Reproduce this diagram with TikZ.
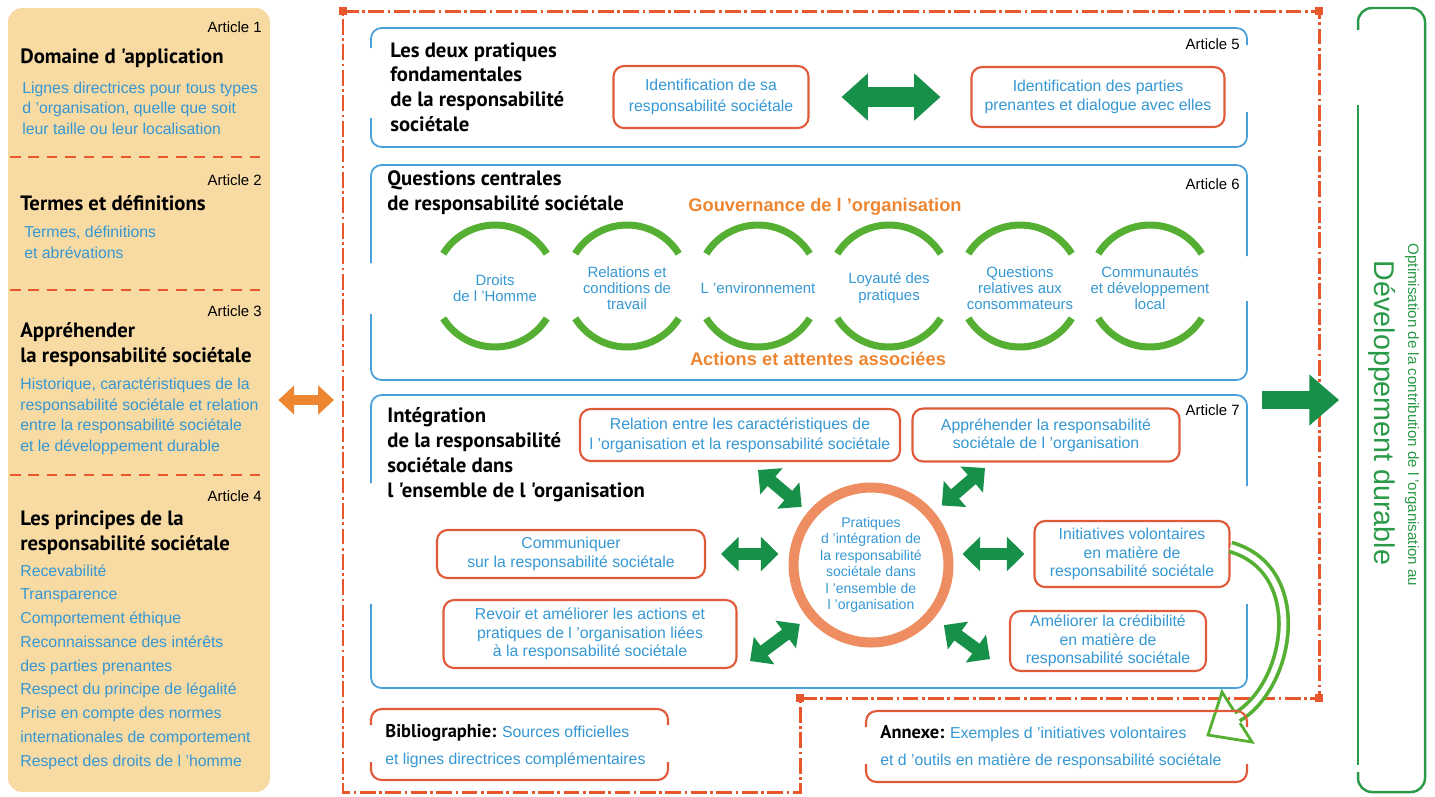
\documentclass[tikz,border=0pt]{standalone}
\usepackage{fontspec}
\setmainfont{Liberation Sans}
\newfontfamily\headfont{PT Sans}
\usetikzlibrary{arrows.meta,calc}

\definecolor{panelfill}{HTML}{F8DAA3}
\definecolor{dashred}{HTML}{E8582C}
\definecolor{txtblue}{HTML}{3597D3}
\definecolor{boxblue}{HTML}{4AA0DA}
\definecolor{boxred}{HTML}{E05A3A}
\definecolor{darkgreen}{HTML}{17904A}
\definecolor{arcgreen}{HTML}{55AF33}
\definecolor{txtorange}{HTML}{EE8631}
\definecolor{ringorange}{HTML}{EF8D62}
\definecolor{ddgreen}{HTML}{2A9A48}

\tikzset{
  article/.style={anchor=base east, inner sep=0, font=\fontsize{8.5}{10}\selectfont},
  heading/.style={anchor=base west, inner sep=0, align=left, font=\headfont\bfseries\fontsize{11.8}{13.7}\selectfont},
  bluetext/.style={anchor=base west, inner sep=0, align=left, text=txtblue, font=\fontsize{9}{11.6}\selectfont},
  sepline/.style={dashred, line width=1.2pt, dash pattern=on 6pt off 4.5pt},
  bluebox/.style={boxblue, line width=1pt, rounded corners=6pt},
  redline/.style={boxred, line width=1.2pt, rounded corners=6pt},
  redbox/.style={draw=boxred, line width=1.2pt, rounded corners=6pt, text=txtblue, align=center, inner sep=0, font=\fontsize{9}{10.4}\selectfont},
  cadre/.style={dashred, line width=1.7pt, dash pattern=on 9pt off 2pt on 1.5pt off 2pt},
  arcline/.style={arcgreen, line width=4pt},
  circtext/.style={text=txtblue, align=center, inner sep=0, font=\fontsize{8.5}{9.2}\selectfont},
  orangetitle/.style={text=txtorange, inner sep=0, font=\bfseries\fontsize{10.4}{12}\selectfont},
  fatarrow/.style={darkgreen, line width=7pt, {Triangle[width=19pt,length=10pt]}-{Triangle[width=19pt,length=10pt]}},
  bigarrow/.style={darkgreen, line width=11pt, {Triangle[width=26pt,length=15pt]}-{Triangle[width=26pt,length=15pt]}},
  exitarrow/.style={darkgreen, line width=10pt, -{Triangle[width=28pt,length=17pt]}},
  orangearrow/.style={txtorange, line width=5.5pt, {Triangle[width=16pt,length=9pt]}-{Triangle[width=16pt,length=9pt]}},
  ddline/.style={ddgreen, line width=1.4pt, rounded corners=8pt}
}

\begin{document}
\begin{tikzpicture}[x=0.02cm, y=-0.02cm]
\useasboundingbox (0,0) rectangle (1435,796);

% sommaire, articles 1 a 4 (base = ligne du bas)
\node [fill=panelfill, rounded corners=8pt, minimum width=5.24cm, minimum height=15.68cm, inner sep=0] (sommaire) at (139,400) {};
\foreach \y in {157,290,475}
  \draw [sepline] (10,\y) -- (264,\y);

\node [article] (art1) at (262,32) {Article 1};
\node [heading] (domaine) at (20,63) {Domaine d 'application};
\node [bluetext] (domainetxt) at (22,134) {Lignes directrices pour tous types\\d 'organisation, quelle que soit\\leur taille ou leur localisation};

\node [article] (art2) at (262,185) {Article 2};
\node [heading] (termes) at (20,210) {Termes et définitions};
\node [bluetext] (termestxt) at (24,258) {Termes, définitions\\et abrévations};

\node [article] (art3) at (262,316) {Article 3};
\node [heading] (apprehender) at (20,362) {Appréhender\\la responsabilité sociétale};
\node [bluetext] (apprehendertxt) at (20,451) {Historique, caractéristiques de la\\responsabilité sociétale et relation\\entre la responsabilité sociétale\\et le développement durable};

\node [article] (art4) at (262,501) {Article 4};
\node [heading, font=\headfont\bfseries\fontsize{11.8}{14.2}\selectfont] (principes) at (20,550) {Les principes de la\\responsabilité sociétale};
\node [bluetext, font=\fontsize{9}{13.5}\selectfont] (principestxt) at (20,766) {Recevabilité\\Transparence\\Comportement éthique\\Reconnaissance des intérêts\\des parties prenantes\\Respect du principe de légalité\\Prise en compte des normes\\internationales de comportement\\Respect des droits de l 'homme};

\coordinate (cadreg) at (334,400);
\draw [orangearrow, shorten <=0.16cm] (sommaire.east) -- (cadreg);

% cadre rouge
\draw [cadre] (343,11) -- (1319,11) -- (1319,698) -- (800,698) -- (800,792) -- (343,792) -- cycle;
\foreach \x/\y in {343/11, 1319/11, 1319/698, 800/698}
  \fill [dashred] (\x-4,\y-4) rectangle (\x+4,\y+4);

% article 5
\draw [bluebox] (371,48) |- (1247,28) -- (1247,45);
\draw [bluebox] (371,118) |- (1247,147) -- (1247,112);
\node [article] (art5) at (1240,49) {Article 5};
\node [heading, font=\headfont\bfseries\fontsize{11.8}{14}\selectfont] (pratiquesfond) at (390,131) {Les deux pratiques\\fondamentales\\de la responsabilité\\sociétale};
\node [redbox, minimum width=3.9cm, minimum height=1.24cm, font=\fontsize{9}{11.9}\selectfont] (ident1) at (711,97) {Identification de sa\\responsabilité sociétale};
\node [redbox, minimum width=5.06cm, minimum height=1.2cm] (ident2) at (1098,97) {Identification des parties\\prenantes et dialogue avec elles};
\draw [bigarrow, shorten <=0.64cm, shorten >=0.6cm] (ident1.east) -- (ident2.west);

% article 6
\draw [bluebox] (371,263) |- (1247,165) -- (1247,256);
\draw [bluebox] (371,314) |- (1247,380) -- (1247,301);
\node [article] (art6) at (1240,189) {Article 6};
\node [heading] (questions) at (387,210) {Questions centrales\\de responsabilité sociétale};
\node [orangetitle] (gouvernance) at (825,207) {Gouvernance de l 'organisation};
\node [orangetitle] (actions) at (818,359) {Actions et attentes associées};
\foreach \cx/\txt [count=\i] in {495/{Droits\\de l 'Homme}, 627/{Relations et\\conditions de\\travail}, 758/{L 'environnement}, 889/{Loyauté des\\pratiques}, 1020/{Questions\\relatives aux\\consommateurs}, 1150/{Communautés\\et développement\\local}} {
  \draw [arcline] (\cx,286) ++(212:61) arc [start angle=212, end angle=328, radius=61];
  \draw [arcline] (\cx,286) ++(32:61) arc [start angle=32, end angle=148, radius=61];
  \node [circtext] (q\i) at (\cx,288) {\txt};
}

% article 7
\draw [bluebox] (371,483) |- (1247,395) -- (1247,486);
\draw [bluebox] (371,604) |- (1247,688) -- (1247,604);
\node [article] (art7) at (1240,415) {Article 7};
\node [heading, font=\headfont\bfseries\fontsize{11.8}{14.2}\selectfont] (integration) at (387,497) {Intégration\\de la responsabilité\\sociétale dans\\l 'ensemble de l 'organisation};

\node [redbox, minimum width=6.4cm, minimum height=1.04cm, font=\fontsize{9}{11.3}\selectfont] (relation) at (740,435) {Relation entre les caractéristiques de\\l 'organisation et la responsabilité sociétale};
\node [redbox, minimum width=5.34cm, minimum height=1.06cm] (approrg) at (1046,435) {Appréhender la responsabilité\\sociétale de l 'organisation};
\node [redbox, minimum width=5.36cm, minimum height=0.96cm] (communiquer) at (571,554) {Communiquer\\sur la responsabilité sociétale};
\node [redbox, minimum width=5.86cm, minimum height=1.36cm] (revoir) at (590,634) {Revoir et améliorer les actions et\\pratiques de l 'organisation liées\\à la responsabilité sociétale};
\node [redbox, minimum width=3.9cm, minimum height=1.32cm] (initiatives) at (1132,554) {Initiatives volontaires\\en matière de\\responsabilité sociétale};
\node [redbox, minimum width=3.92cm, minimum height=1.2cm] (credibilite) at (1108,641) {Améliorer la crédibilité\\en matière de\\responsabilité sociétale};

\node [circle, draw=ringorange, line width=5.7pt, minimum size=3.1cm, inner sep=0, text=txtblue, align=center, font=\fontsize{8}{9.4}\selectfont] (pratiques) at (871,565) {Pratiques\\d 'intégration de\\la responsabilité\\sociétale dans\\l 'ensemble de\\l 'organisation};

\coordinate (fl1) at (758,470);
\coordinate (fl2) at (985,468);
\coordinate (fl3) at (750,661);
\coordinate (fl4) at (990,659);
\draw [fatarrow, shorten <=0.16cm] (pratiques.140) -- (fl1);
\draw [fatarrow, shorten <=0.2cm] (pratiques.40) -- (fl2);
\draw [fatarrow, shorten <=0.2cm] (pratiques.220) -- (fl3);
\draw [fatarrow, shorten <=0.24cm] (pratiques.320) -- (fl4);
\draw [fatarrow, shorten <=0.3cm, shorten >=0.2cm] (communiquer.east) -- (communiquer.east -| pratiques.west);
\draw [fatarrow, shorten <=0.18cm, shorten >=0.18cm] (initiatives.west -| pratiques.east) -- (initiatives.west);

% fleche creuse vers l'annexe
\coordinate (creux) at (1237,717);
\draw [arcgreen, line width=7.4pt] ([yshift=4pt]initiatives.east) .. controls (1310,570) and (1290,686) .. (creux);
\fill [white] (1222,692) -- (1208,735) -- (1252,742) -- cycle;
\draw [white, line width=3.2pt] ([yshift=4pt]initiatives.east) .. controls (1310,570) and (1290,686) .. (creux);
\draw [arcgreen, line width=1.6pt, line join=miter] (1234,711) -- (1222,692) -- (1208,735) -- (1252,742) -- (1240,723);

% bibliographie et annexe
\draw [redline] (371,725) |- (668,709) -- (668,725);
\draw [redline] (371,762) |- (668,780) -- (668,762);
\node [anchor=base west, inner sep=0, align=left, text=txtblue, font=\fontsize{9}{15.3}\selectfont] (biblio) at (385,764) {{\color{black}\headfont\bfseries\fontsize{10.5}{11}\selectfont Bibliographie:} Sources officielles\\ et lignes directrices complémentaires};
\draw [redline] (866,727) |- (1247,711) -- (1247,727);
\draw [redline] (866,764) |- (1247,782) -- (1247,764);
\node [anchor=base west, inner sep=0, align=left, text=txtblue, font=\fontsize{9}{15.3}\selectfont] (annexe) at (880,765) {{\color{black}\headfont\bfseries\fontsize{10.5}{11}\selectfont Annexe:} Exemples d 'initiatives volontaires\\et d 'outils en matière de responsabilité sociétale};

% developpement durable
\node [minimum width=1.34cm, minimum height=15.68cm, inner sep=0] (devdur) at (1391,400) {};
\draw [ddline] (1358,30) |- (1425,8) -- (1425,792) -| (1358,772);
\draw [ddline] (1358,105) -- (1358,765);
\node [rotate=-90, text=ddgreen, inner sep=0, font=\fontsize{16.3}{20}\selectfont] (devtxt) at (1382,413) {Développement durable};
\node [rotate=-90, text=ddgreen, inner sep=0, font=\fontsize{8.6}{10}\selectfont] (opttxt) at (1412,415) {Optimisation de la contribution de l 'organisation au};
\coordinate (sortie) at (1262,400);
\draw [exitarrow, shorten >=0.36cm] (sortie) -- (devdur.west);

\end{tikzpicture}
\end{document}
